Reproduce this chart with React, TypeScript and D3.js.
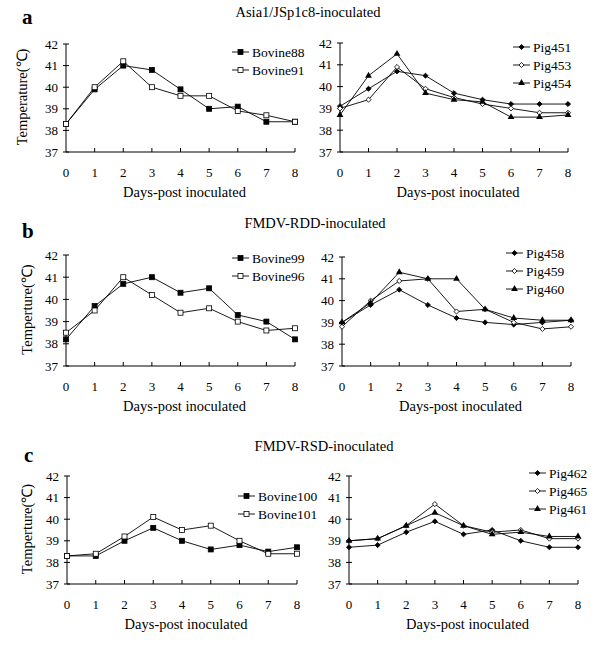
import React from 'react';
import * as d3 from 'd3';

const days = [0, 1, 2, 3, 4, 5, 6, 7, 8];
const tempTicks = [37, 38, 39, 40, 41, 42];

// panel a
const bovine88 = [38.3, 39.9, 41.0, 40.8, 39.9, 39.0, 39.1, 38.4, 38.4];
const bovine91 = [38.3, 40.0, 41.2, 40.0, 39.6, 39.6, 38.9, 38.7, 38.4];
const pig451 = [39.1, 39.9, 40.7, 40.5, 39.7, 39.4, 39.2, 39.2, 39.2];
const pig453 = [39.0, 39.4, 40.9, 39.9, 39.5, 39.2, 39.0, 38.8, 38.8];
const pig454 = [38.7, 40.5, 41.5, 39.7, 39.4, 39.3, 38.6, 38.6, 38.7];

// panel b
const bovine99 = [38.2, 39.7, 40.7, 41.0, 40.3, 40.5, 39.3, 39.0, 38.2];
const bovine96 = [38.5, 39.5, 41.0, 40.2, 39.4, 39.6, 39.0, 38.6, 38.7];
const pig458 = [39.0, 39.8, 40.5, 39.8, 39.2, 39.0, 38.9, 39.0, 39.1];
const pig459 = [38.8, 40.0, 40.9, 41.0, 39.5, 39.6, 39.0, 38.7, 38.8];
const pig460 = [39.0, 39.9, 41.3, 41.0, 41.0, 39.6, 39.2, 39.1, 39.1];

// panel c
const bovine100 = [38.3, 38.3, 39.0, 39.6, 39.0, 38.6, 38.8, 38.5, 38.7];
const bovine101 = [38.3, 38.4, 39.2, 40.1, 39.5, 39.7, 39.0, 38.4, 38.4];
const pig462 = [38.7, 38.8, 39.4, 39.9, 39.3, 39.5, 39.0, 38.7, 38.7];
const pig465 = [39.0, 39.1, 39.7, 40.7, 39.7, 39.4, 39.5, 39.1, 39.1];
const pig461 = [39.0, 39.1, 39.7, 40.3, 39.7, 39.3, 39.4, 39.2, 39.2];

const FONT = "'Liberation Serif', 'Times New Roman', serif";

type Marker = 'squareFilled' | 'squareOpen' | 'diamondFilled' | 'diamondOpen' | 'triangle';
type Series = { name: string; values: number[]; marker: Marker };

const MarkerShape = ({ type, x, y }: { type: Marker; x: number; y: number }) => {
  const filled = type !== 'squareOpen' && type !== 'diamondOpen';
  const fill = filled ? '#000' : '#fff';
  if (type === 'squareFilled' || type === 'squareOpen') {
    return <rect x={x - 2.5} y={y - 2.5} width={5} height={5} fill={fill} stroke="#000" strokeWidth={0.8} />;
  }
  if (type === 'triangle') {
    const p = d3.symbol().type(d3.symbolTriangle).size(20)();
    return <path d={p || ''} transform={`translate(${x},${y})`} fill="#000" />;
  }
  const p = d3.symbol().type(d3.symbolSquare).size(13)();
  return <path d={p || ''} transform={`translate(${x},${y}) rotate(45)`} fill={fill} stroke="#000" strokeWidth={0.8} />;
};

type PanelProps = {
  x0: number; x1: number; yTop: number; yBot: number;
  series: Series[];
  legendX: number; legendY: number;
  yTitle?: string; yTitleX?: number;
};

const Panel = ({ x0, x1, yTop, yBot, series, legendX, legendY, yTitle, yTitleX }: PanelProps) => {
  const x = d3.scaleLinear().domain([0, 8]).range([x0, x1]);
  const y = d3.scaleLinear().domain([37, 42]).range([yBot, yTop]);
  const line = d3.line<number>().x((_, i) => x(days[i])).y(d => y(d));
  return (
    <g fontFamily={FONT} fill="#000">
      <line x1={x0} x2={x0} y1={yTop} y2={yBot} stroke="#000" strokeWidth={1} />
      <line x1={x0} x2={x1} y1={yBot} y2={yBot} stroke="#000" strokeWidth={1} />
      {tempTicks.map(t => (
        <g key={t}>
          <line x1={x0 - 3} x2={x0 + 3} y1={y(t)} y2={y(t)} stroke="#000" />
          <text x={x0 - 8} y={y(t)} dy="0.35em" textAnchor="end" fontSize={13}>{t}</text>
        </g>
      ))}
      {days.map(d => (
        <g key={d}>
          {d > 0 && <line x1={x(d)} x2={x(d)} y1={yBot} y2={yBot - 4} stroke="#000" />}
          <text x={x(d)} y={yBot + 25} textAnchor="middle" fontSize={13}>{d}</text>
        </g>
      ))}
      <text x={(x0 + x1) / 2 + 4} y={yBot + 45} textAnchor="middle" fontSize={14.5}>Days-post inoculated</text>
      {yTitle && (
        <text transform={`translate(${yTitleX},${(yTop + yBot) / 2 - 1}) rotate(-90)`} textAnchor="middle" dy="0.35em" fontSize={14.5}>{yTitle}</text>
      )}
      {series.map(s => (
        <g key={s.name}>
          <path d={line(s.values) || ''} fill="none" stroke="#000" strokeWidth={0.9} />
          {s.values.map((v, i) => <MarkerShape key={i} type={s.marker} x={x(days[i])} y={y(v)} />)}
        </g>
      ))}
      {series.map((s, i) => {
        const ly = legendY + i * 18;
        return (
          <g key={'lg' + s.name}>
            <line x1={legendX} x2={legendX + 17} y1={ly} y2={ly} stroke="#000" strokeWidth={0.9} />
            <MarkerShape type={s.marker} x={legendX + 8.5} y={ly} />
            <text x={legendX + 20} y={ly} dy="0.35em" fontSize={13.5}>{s.name}</text>
          </g>
        );
      })}
    </g>
  );
};

export default function App() {
  return (
    <svg width={600} height={653} style={{ position: 'absolute', left: 0, top: 0, background: '#fff' }}>
      <rect width={600} height={653} fill="#fff" />
      <g fontFamily={FONT}>
        <text x={22} y={24} fontSize={21} fontWeight="bold">a</text>
        <text x={308} y={17} textAnchor="middle" fontSize={14.5}>Asia1/JSp1c8-inoculated</text>
        <text x={22} y={238} fontSize={21} fontWeight="bold">b</text>
        <text x={315} y={228} textAnchor="middle" fontSize={14.5}>FMDV-RDD-inoculated</text>
        <text x={24} y={462} fontSize={21} fontWeight="bold">c</text>
        <text x={324} y={451} textAnchor="middle" fontSize={14.5}>FMDV-RSD-inoculated</text>
      </g>
      <Panel x0={66} x1={295} yTop={44} yBot={152} legendX={232} legendY={52}
        yTitle="Temperature(℃)" yTitleX={22}
        series={[
          { name: 'Bovine88', values: bovine88, marker: 'squareFilled' },
          { name: 'Bovine91', values: bovine91, marker: 'squareOpen' },
        ]} />
      <Panel x0={340} x1={568} yTop={43} yBot={152} legendX={513} legendY={47}
        series={[
          { name: 'Pig451', values: pig451, marker: 'diamondFilled' },
          { name: 'Pig453', values: pig453, marker: 'diamondOpen' },
          { name: 'Pig454', values: pig454, marker: 'triangle' },
        ]} />
      <Panel x0={66} x1={295} yTop={255} yBot={366} legendX={232} legendY={258}
        yTitle="Temperture(℃)" yTitleX={27}
        series={[
          { name: 'Bovine99', values: bovine99, marker: 'squareFilled' },
          { name: 'Bovine96', values: bovine96, marker: 'squareOpen' },
        ]} />
      <Panel x0={342} x1={571} yTop={257} yBot={366} legendX={506} legendY={253}
        series={[
          { name: 'Pig458', values: pig458, marker: 'diamondFilled' },
          { name: 'Pig459', values: pig459, marker: 'diamondOpen' },
          { name: 'Pig460', values: pig460, marker: 'triangle' },
        ]} />
      <Panel x0={67} x1={297} yTop={476} yBot={584} legendX={238} legendY={496}
        yTitle="Temperture(℃)" yTitleX={27}
        series={[
          { name: 'Bovine100', values: bovine100, marker: 'squareFilled' },
          { name: 'Bovine101', values: bovine101, marker: 'squareOpen' },
        ]} />
      <Panel x0={349} x1={578} yTop={476} yBot={584} legendX={529} legendY={473}
        series={[
          { name: 'Pig462', values: pig462, marker: 'diamondFilled' },
          { name: 'Pig465', values: pig465, marker: 'diamondOpen' },
          { name: 'Pig461', values: pig461, marker: 'triangle' },
        ]} />
    </svg>
  );
}
